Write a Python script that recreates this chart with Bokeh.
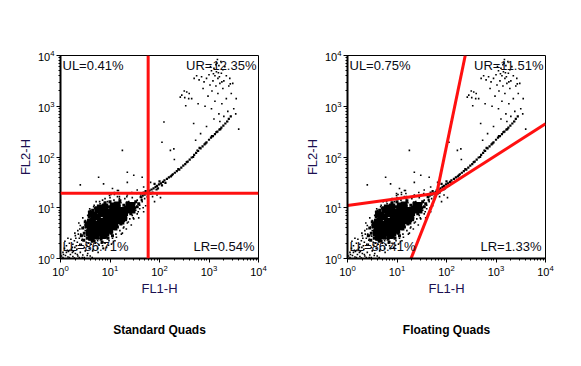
from bokeh.plotting import figure
from bokeh.layouts import row
from bokeh.models import Span, Label, Title
from bokeh.embed import file_html
from bokeh.resources import INLINE

# ---------------- data (log10 decades) ----------------
core_x = [0.60, 0.65, 0.70, 0.72, 0.75, 0.78, 0.80, 0.82, 0.85, 0.88, 0.90, 0.92, 0.95, 0.97,
          1.00, 1.02, 1.05, 1.07, 1.10, 1.12, 1.15, 1.18, 1.20, 1.25, 1.30, 1.35, 0.68, 0.85,
          1.00, 0.62, 0.75, 0.90, 1.28, 1.40, 1.45, 0.80, 0.95, 1.10, 0.70, 1.22,
          0.58, 0.62, 0.66, 0.72, 0.76, 0.84, 0.92, 0.96, 1.04, 1.08, 1.16, 1.24, 1.32, 1.38,
          1.44, 1.42, 0.68, 0.80, 0.86, 1.14, 1.06, 0.56, 0.60]
core_y = [0.60, 0.75, 0.55, 0.68, 0.82, 0.50, 0.62, 0.74, 0.88, 0.56, 0.68, 0.80, 0.92, 0.60,
          0.72, 0.84, 0.96, 0.66, 0.78, 0.90, 1.00, 0.74, 0.86, 0.95, 0.90, 0.98, 0.45, 0.45,
          0.55, 0.88, 0.95, 1.02, 0.80, 1.02, 0.95, 0.72, 0.64, 0.70, 0.62, 0.92,
          0.50, 0.42, 0.50, 0.46, 0.58, 0.52, 0.50, 0.70, 0.62, 0.86, 0.82, 0.78, 0.95, 1.05,
          1.05, 0.96, 0.85, 1.00, 0.96, 1.06, 1.04, 0.66, 0.72]

ring_x = [0.55, 0.58, 0.62, 0.66, 0.70, 0.72, 0.78, 0.82, 0.88, 0.92, 0.98, 1.02, 1.08, 1.12,
          1.18, 1.22, 1.28, 1.32, 1.38, 1.42, 1.50, 1.48, 1.55, 0.58, 0.52, 0.65, 0.75, 1.05,
          1.15, 0.48, 0.60, 0.84, 1.35, 1.58, 0.45, 0.68, 0.50, 0.54, 0.64, 0.72, 0.90, 1.00,
          1.20, 1.26, 1.52, 0.42, 0.47, 0.96]
ring_y = [0.55, 0.68, 0.48, 0.62, 0.88, 0.42, 0.90, 0.38, 0.98, 0.42, 1.02, 0.50, 1.05, 0.58,
          1.06, 0.68, 1.05, 0.80, 1.00, 0.88, 1.00, 1.08, 1.02, 0.82, 0.62, 0.95, 0.40, 0.45,
          0.62, 0.50, 0.38, 0.32, 1.10, 1.08, 0.60, 0.35, 0.72, 0.40, 0.34, 1.00, 1.10, 1.12,
          1.14, 0.70, 1.12, 0.45, 0.36, 0.40]

halo_x = [0.05, 0.10, 0.15, 0.20, 0.25, 0.30, 0.12, 0.35, 0.40, 0.45, 0.22, 0.08, 0.50, 0.55,
          0.32, 0.42, 0.28, 0.38, 0.48, 0.52, 0.58, 0.62, 0.45, 0.35, 0.40, 0.50, 0.55, 0.65,
          0.70, 0.75, 0.60, 0.55, 0.50, 0.45, 0.68, 0.72, 0.80, 0.85, 0.95, 1.00, 1.08, 1.15,
          1.22, 1.30, 1.38, 1.45, 1.50, 1.55, 1.60, 1.65, 1.70, 1.52, 1.45, 1.40, 1.35, 1.28,
          1.20, 1.12, 1.05, 0.98, 0.90, 0.85, 0.80, 0.95, 1.10, 1.25, 1.55, 1.60, 0.30, 0.25,
          0.18, 0.15, 0.60, 0.70, 0.90, 1.18, 1.35, 1.62, 0.05, 0.18, 0.28, 0.38, 0.02, 0.48,
          0.60, 0.12, 0.75, 0.65, 0.33, 0.43, 0.53, 0.63, 0.73, 0.83, 0.93, 1.03, 1.13, 1.23,
          1.33, 1.43, 1.48, 1.58, 1.68, 1.72, 0.36, 0.26, 0.16, 0.06, 0.86, 0.78, 1.02, 1.17,
          0.24, 0.34, 0.44, 0.29, 0.39, 0.49, 0.21, 0.31, 0.41, 0.51, 0.37, 0.47, 0.57, 0.67,
          0.77, 0.87, 0.97, 1.07, 1.27, 1.37, 1.47, 1.57, 1.67, 1.64, 1.54, 1.44, 1.34, 1.19,
          1.09, 0.99, 0.89, 0.79, 0.69, 0.59, 0.46, 0.56, 0.66, 0.76, 0.14, 0.24, 0.34, 0.44,
          0.54, 0.64, 0.09, 0.19, 0.29, 0.39, 0.49, 0.59, 0.69, 0.79, 0.89, 0.99, 1.09, 1.19]
halo_y = [0.02, 0.06, 0.03, 0.08, 0.04, 0.10, 0.12, 0.05, 0.12, 0.07, 0.18, 0.20, 0.15, 0.10,
          0.25, 0.28, 0.35, 0.40, 0.22, 0.32, 0.20, 0.28, 0.45, 0.55, 0.65, 0.55, 0.42, 0.38,
          0.30, 0.35, 0.95, 0.85, 0.75, 0.80, 1.05, 1.12, 1.08, 1.15, 1.12, 1.20, 1.15, 1.22,
          1.10, 1.18, 1.12, 1.20, 1.08, 1.15, 1.05, 1.12, 1.18, 0.95, 0.85, 0.78, 0.70, 0.62,
          0.55, 0.48, 0.40, 0.35, 0.30, 0.25, 0.40, 0.45, 0.35, 0.50, 0.88, 0.98, 0.45, 0.28,
          0.30, 0.40, 0.48, 1.00, 1.18, 1.28, 1.25, 1.25, 0.12, 0.02, 0.01, 0.02, 0.05, 0.02,
          0.05, 0.25, 0.20, 0.15, 0.18, 0.36, 0.26, 0.58, 0.50, 0.30, 0.22, 0.28, 0.42, 0.48,
          0.58, 0.66, 0.78, 0.80, 0.92, 1.04, 0.48, 0.14, 0.14, 0.08, 0.20, 0.26, 1.26, 1.34,
          0.22, 0.32, 0.38, 0.50, 0.58, 0.66, 0.38, 0.40, 0.48, 0.70, 0.70, 0.62, 0.92, 1.02,
          0.28, 0.20, 0.26, 0.34, 0.60, 0.72, 0.80, 0.92, 1.00, 1.20, 1.28, 1.30, 1.22, 1.22,
          1.26, 1.24, 1.10, 1.12, 0.98, 0.98, 0.60, 0.30, 0.18, 0.12, 0.16, 0.12, 0.08, 0.02,
          0.06, 0.02, 0.34, 0.16, 0.22, 0.28, 0.44, 0.66, 0.78, 0.86, 1.08, 1.28, 1.30, 1.18]

trail_x = [1.62, 1.66, 1.70, 1.74, 1.78, 1.80, 1.84, 1.88, 1.92, 1.95, 1.99, 2.03, 2.07, 2.10,
           2.15, 2.19, 2.23, 2.27, 2.31, 2.35, 2.40, 2.44, 2.48, 2.52, 2.57, 2.61, 2.65, 2.70,
           2.74, 2.78, 2.83, 2.87, 2.91, 2.95, 3.00, 3.04, 3.08, 3.12, 3.17, 3.21, 3.25, 3.29,
           3.33, 3.37, 1.64, 1.72, 1.76, 1.86, 1.90, 1.97, 2.00, 2.12, 2.25, 2.38, 2.55, 2.68,
           2.81, 2.93, 3.06, 3.15, 3.23, 3.40, 3.44, 1.68, 1.82, 1.94, 2.05]
trail_y = [1.21, 1.24, 1.26, 1.29, 1.31, 1.34, 1.36, 1.38, 1.41, 1.43, 1.46, 1.48, 1.51, 1.54,
           1.57, 1.60, 1.62, 1.66, 1.69, 1.72, 1.75, 1.79, 1.83, 1.86, 1.91, 1.95, 1.99, 2.04,
           2.08, 2.12, 2.17, 2.21, 2.25, 2.29, 2.34, 2.38, 2.41, 2.45, 2.50, 2.54, 2.58, 2.62,
           2.66, 2.70, 1.15, 1.33, 1.22, 1.30, 1.47, 1.38, 1.52, 1.49, 1.64, 1.76, 1.90, 2.00,
           2.18, 2.27, 2.41, 2.49, 2.55, 2.75, 2.80, 1.30, 1.28, 1.36, 1.44]

top_x = [3.05, 3.10, 3.15, 3.20, 3.12, 3.00, 2.95, 3.08, 3.18, 3.25, 3.22, 3.28, 2.90, 2.85,
         2.80, 2.75, 2.70, 3.02, 3.14, 3.30, 3.35, 3.32, 3.16, 3.24, 3.06, 3.18, 2.98, 3.28,
         3.40, 3.45, 3.12, 3.26, 3.35, 2.92, 3.05, 3.38, 3.20, 2.78, 2.60, 2.55, 2.50, 2.45,
         2.65, 3.10, 3.30, 3.50, 3.55, 3.42, 3.48, 2.88, 3.36, 3.22, 3.17, 3.19, 3.14, 3.21,
         3.09, 3.26, 3.03]
top_y = [3.70, 3.75, 3.68, 3.80, 3.60, 3.62, 3.55, 3.50, 3.55, 3.65, 3.45, 3.72, 3.48, 3.58,
         3.52, 3.60, 3.55, 3.42, 3.40, 3.50, 3.60, 3.78, 3.85, 3.88, 3.30, 3.25, 3.20, 3.35,
         3.40, 3.25, 3.10, 3.05, 3.15, 3.00, 2.95, 2.90, 2.85, 3.05, 3.25, 3.28, 3.30, 3.22,
         3.15, 2.75, 2.80, 2.95, 3.15, 3.55, 3.45, 3.35, 2.70, 2.70, 3.92, 3.66, 3.82, 3.58,
         3.64, 3.48, 3.78]

sparse_x = [2.09, 2.05, 2.42, 2.51, 2.59, 1.25, 0.77, 0.87, 1.15, 1.48, 1.65, 1.35, 2.29, 2.73,
            2.83, 3.54, 3.43, 2.69, 2.53, 2.22, 2.76, 1.68, 1.35, 1.82, 1.86, 1.95, 2.02, 1.90,
            0.40, 1.05, 2.30, 2.95, 3.60, 1.55]
sparse_y = [2.69, 2.29, 3.18, 3.17, 3.15, 2.13, 1.60, 1.47, 1.34, 1.64, 1.60, 1.70, 2.16, 2.33,
            2.46, 2.85, 3.44, 2.66, 3.01, 2.13, 2.13, 1.41, 1.50, 1.50, 1.22, 1.25, 1.20, 1.12,
            1.45, 1.38, 1.95, 2.60, 2.55, 1.35]

# gates
std_gate_x = 59.0
std_gate_y = 19.4
std_pct = ["UL=0.41%", "UR=12.35%", "LL=86.71%", "LR=0.54%"]

float_center = (63.7, 19.4)
float_ends_x = [1.0, 1e4, 239.0, 19.2]
float_ends_y = [11.07, 451.0, 1e4, 1.0]
float_pct = ["UL=0.75%", "UR=11.51%", "LL=86.41%", "LR=1.33%"]

titles = ["Standard Quads", "Floating Quads"]
x_label = "FL1-H"
y_label = "FL2-H"

FONT = "Liberation Sans"
RED = "#ff1010"
TXT = "#0a0a14"


def tens(v):
    return [10 ** a for a in v]


def make(width, right_border, title, pcts):
    p = figure(width=width, height=362, x_axis_type="log", y_axis_type="log",
               x_range=(1, 1e4), y_range=(1, 1e4), output_backend="svg",
               toolbar_location=None, min_border_left=60, min_border_right=right_border,
               min_border_top=55, min_border_bottom=104)
    p.grid.visible = False
    p.outline_line_color = "black"
    p.outline_line_width = 1
    p.outline_line_alpha = 1
    p.background_fill_color = "white"
    for ax, lab in ((p.xaxis, x_label), (p.yaxis, y_label)):
        ax.axis_label = lab
        ax.axis_label_text_font = FONT
        ax.axis_label_text_font_size = "13px"
        ax.axis_label_text_font_style = "normal"
        ax.axis_label_text_color = "#1c1050"
        ax.axis_label_standoff = 2
        ax.axis_line_width = 2
        ax.axis_line_color = "black"
        ax.major_tick_out = 4
        ax.major_tick_in = 0
        ax.minor_tick_out = 2
        ax.minor_tick_in = 0
        ax.major_tick_line_color = "black"
        ax.minor_tick_line_color = "black"
        ax.major_label_text_font = FONT
        ax.major_label_text_font_size = "11px"
        ax.major_label_text_color = "black"
        ax.major_label_standoff = 2

    dot = dict(marker="square", color="black", line_color=None)
    p.scatter(tens(halo_x), tens(halo_y), size=1.6, **dot)
    p.scatter(tens(sparse_x), tens(sparse_y), size=1.6, **dot)
    p.scatter(tens(top_x), tens(top_y), size=1.6, **dot)
    p.scatter(tens(trail_x), tens(trail_y), size=2.2, **dot)
    p.scatter(tens(ring_x), tens(ring_y), size=3, **dot)
    p.scatter(tens(core_x), tens(core_y), size=6.5, **dot)

    common = dict(text_font=FONT, text_font_size="13px", text_color=TXT)
    p.add_layout(Label(x=1, y=1e4, x_offset=2, y_offset=-2, text=pcts[0],
                       text_align="left", text_baseline="top", **common))
    p.add_layout(Label(x=1e4, y=1e4, x_offset=-2, y_offset=-2, text=pcts[1],
                       text_align="right", text_baseline="top", **common))
    p.add_layout(Label(x=1, y=1, x_offset=2, y_offset=5, text=pcts[2],
                       text_align="left", text_baseline="bottom", **common))
    p.add_layout(Label(x=1e4, y=1, x_offset=-4, y_offset=5, text=pcts[3],
                       text_align="right", text_baseline="bottom", **common))
    # spacer then real title below the x axis
    p.add_layout(Title(text=" ", text_font_size="4px"), "below")
    p.add_layout(Title(text=title, align="center", text_font=FONT, text_font_size="12px",
                       text_font_style="bold", text_color="black"), "below")
    return p


p1 = make(287, 29, titles[0], std_pct)
p1.add_layout(Span(location=std_gate_x, dimension="height", line_color=RED, line_width=3))
p1.add_layout(Span(location=std_gate_y, dimension="width", line_color=RED, line_width=3))

p2 = make(290, 32, titles[1], float_pct)
p2.segment(x0=[float_center[0]] * 4, y0=[float_center[1]] * 4,
           x1=float_ends_x, y1=float_ends_y, line_color=RED, line_width=3)

layout = row(p1, p2)
open("out.html", "w").write(file_html(layout, INLINE))
